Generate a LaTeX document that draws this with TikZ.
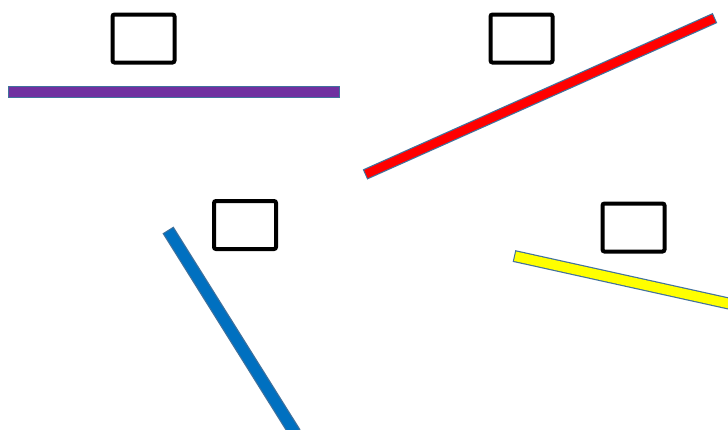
\documentclass[tikz,border=0pt]{standalone}
\usepackage{tikz}
\usetikzlibrary{calc}
\usepackage{xcolor}
\definecolor{BarEdge}{HTML}{41719C}
\definecolor{BarPurple}{HTML}{7030A0}
\definecolor{BarRed}{HTML}{FF0000}
\definecolor{BarBlue}{HTML}{0070C0}
\definecolor{BarYellow}{HTML}{FFFF00}
\tikzset{
  emptybox/.style={draw=black, line width=4, rounded corners=2, minimum width=62, minimum height=48, inner sep=0},
}
% bar: edge colour first, then the fill slightly inside
\newcommand{\drawbar}[4]{%
  \draw[BarEdge, line width=#4+2] #1 -- #2;
  \draw[#3, line width=#4-0.4, shorten <=1.1, shorten >=1.1] #1 -- #2;
}

\begin{document}
\begin{tikzpicture}[x=1pt,y=-1pt]
  \useasboundingbox (0,0) rectangle (728,429);
  \clip (0,0) rectangle (728,429);
  % boxes
  \node[emptybox] (boxA) at (143.5,38.5) {};
  \node[emptybox] (boxB) at (521.5,38.5) {};
  \node[emptybox] (boxC) at (245,225) {};
  \node[emptybox] (boxD) at (633.5,227.5) {};
  % bars
  \drawbar{(8,92)}{(340,92)}{BarPurple}{10}
  \drawbar{(365,174.5)}{(715,18)}{BarRed}{9}
  \drawbar{(168,230)}{(295,433)}{BarBlue}{11}
  \drawbar{(514,256)}{(740,306)}{BarYellow}{10}
\end{tikzpicture}
\end{document}
